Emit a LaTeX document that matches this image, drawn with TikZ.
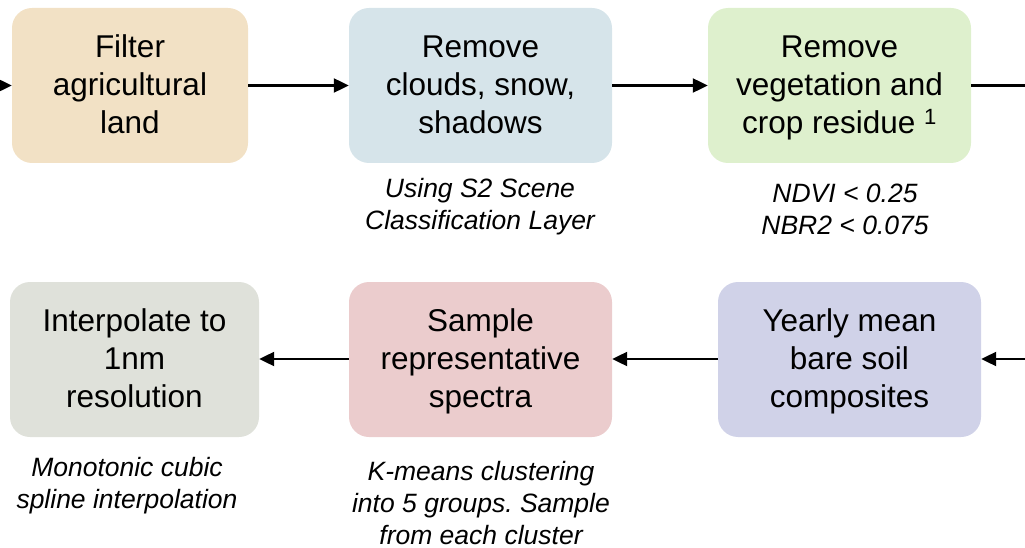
\documentclass[tikz,border=0pt]{standalone}
\usepackage{fontspec}
\setmainfont{Liberation Sans}
\usetikzlibrary{arrows.meta}

\definecolor{landcol}{HTML}{F2E1C5}
\definecolor{cloudcol}{HTML}{D6E4EA}
\definecolor{vegcol}{HTML}{DEF0CD}
\definecolor{interpcol}{HTML}{DFE1DA}
\definecolor{samplecol}{HTML}{EBCCCD}
\definecolor{yearcol}{HTML}{D0D2E8}

\tikzset{
  stage/.style={rounded corners=20pt, minimum height=155pt, inner sep=0pt, align=center,
    font=\fontsize{31.5}{38}\selectfont,
    execute at begin node=\rule{0pt}{107pt}, execute at end node=\strut},
  note/.style={align=center, font=\fontsize{26.5}{32}\selectfont\itshape\frenchspacing},
  flow/.style={line width=2.2pt, -{Triangle[length=15pt,width=14pt]}}
}

\begin{document}
\begin{tikzpicture}[x=1pt, y=-1pt]
  \useasboundingbox (0,0) rectangle (1025,548);
  % first row
  \node [stage, fill=landcol, minimum width=236pt] (filter) at (130,85.5) {Filter\\agricultural\\land};
  \node [stage, fill=cloudcol, minimum width=263pt] (clouds) at (480.5,85.5) {Remove\\clouds, snow,\\shadows};
  \node [stage, fill=vegcol, minimum width=263pt] (veg) at (839.5,85.5) {Remove\\vegetation and\\crop residue \textsuperscript{1}};
  % second row
  \node [stage, fill=yearcol, minimum width=263pt] (yearly) at (849.5,359.5) {Yearly mean\\bare soil\\composites};
  \node [stage, fill=samplecol, minimum width=263pt] (sample) at (480.5,359.5) {Sample\\representative\\spectra};
  \node [stage, fill=interpcol, minimum width=249pt] (interp) at (134.5,359.5) {Interpolate to\\1nm\\resolution};
  % notes
  \node [note] (sclnote) at (480,207) {Using S2 Scene\\Classification Layer};
  \node [note] (ndvinote) at (845,209) {NDVI < 0.25\\NBR2 < 0.075};
  \node [note] (splinenote) at (127,485.5) {Monotonic cubic\\spline interpolation};
  \node [note] (kmeansnote) at (481,503) {K-means clustering\\into 5 groups. Sample\\from each cluster};
  % connectors
  \coordinate (inA) at (0,85.5);
  \coordinate (outA) at (1025,85.5);
  \coordinate (inB) at (1025,359);
  \draw [flow] (inA) -- (filter.west |- inA);
  \draw [flow] (filter.east |- inA) -- (clouds.west |- inA);
  \draw [flow] (clouds.east |- inA) -- (veg.west |- inA);
  \draw [line width=2.2pt] (veg.east |- outA) -- (outA);
  \draw [flow] (inB) -- (yearly.east |- inB);
  \draw [flow] (yearly.west |- inB) -- (sample.east |- inB);
  \draw [flow] (sample.west |- inB) -- (interp.east |- inB);
\end{tikzpicture}
\end{document}
